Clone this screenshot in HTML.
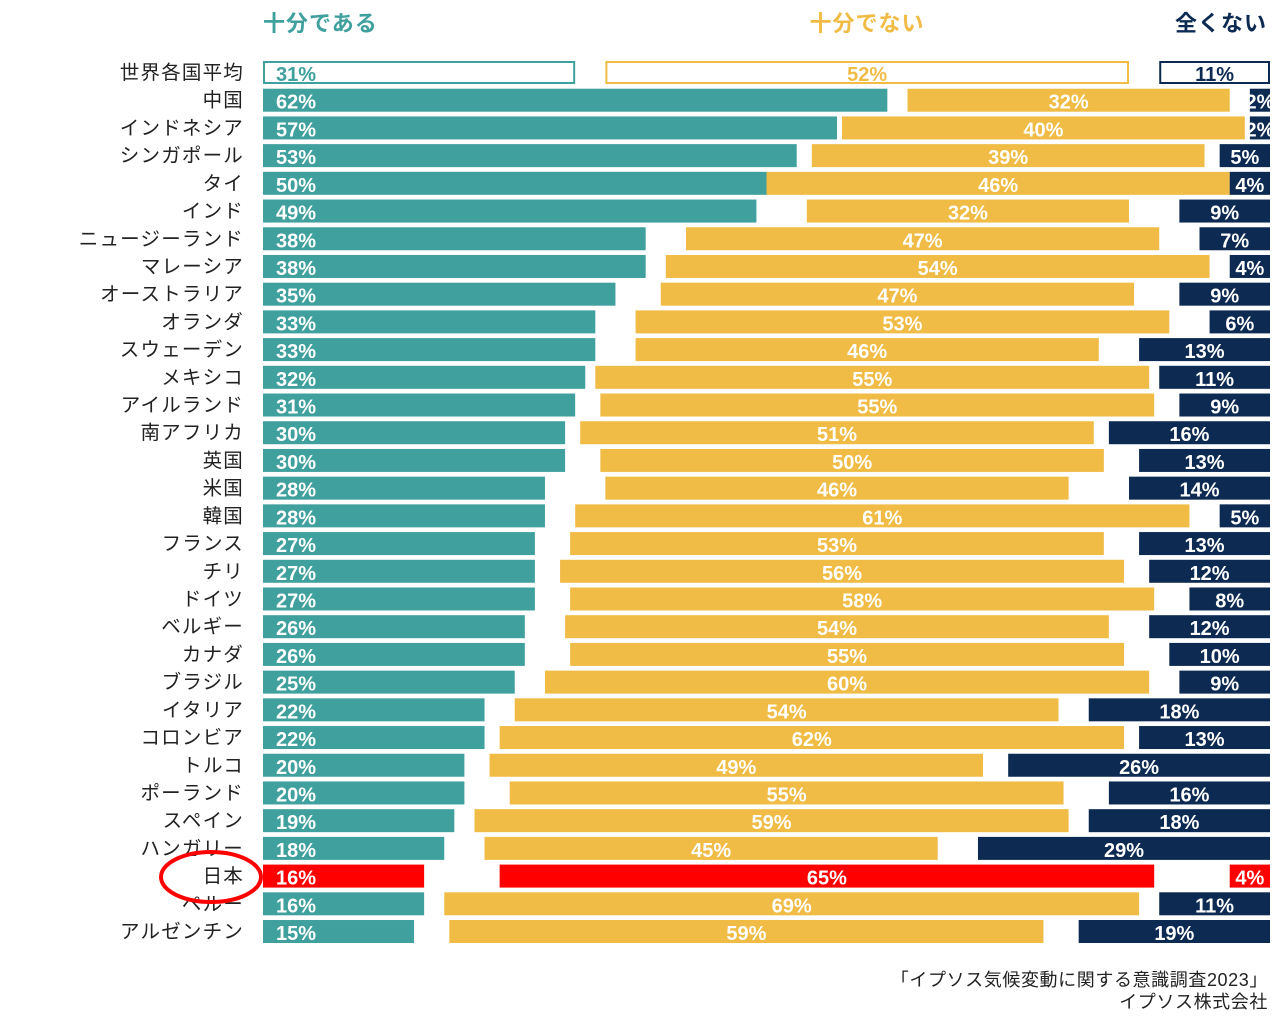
<!DOCTYPE html>
<html><head><meta charset="utf-8"><style>
html,body{margin:0;padding:0;background:#fff;}
svg{display:block;font-family:"Liberation Sans","Noto Sans CJK JP",sans-serif;}
</style></head><body>
<svg id="chart" width="1282" height="1024" viewBox="0 0 1282 1024" xmlns="http://www.w3.org/2000/svg">
<text x="263" y="31" font-size="22" font-weight="bold" fill="#40A09E" letter-spacing="1">十分である</text>
<text x="867" y="31" font-size="22" font-weight="bold" fill="#F0BC45" letter-spacing="1" text-anchor="middle">十分でない</text>
<text x="1267" y="31" font-size="22" font-weight="bold" fill="#0D2A52" letter-spacing="1" text-anchor="end">全くない</text>
<g id="rows"></g>
<ellipse cx="211" cy="877" rx="50" ry="25" fill="none" stroke="#FF0000" stroke-width="4"/>
<text x="1268" y="986" font-size="18" fill="#222" letter-spacing="0.6" text-anchor="end">「イプソス気候変動に関する意識調査2023」</text>
<text x="1268" y="1008" font-size="18" fill="#222" letter-spacing="0.6" text-anchor="end">イプソス株式会社</text>
</svg>
<script>
const countries=["世界各国平均","中国","インドネシア","シンガポール","タイ","インド","ニュージーランド","マレーシア","オーストラリア","オランダ","スウェーデン","メキシコ","アイルランド","南アフリカ","英国","米国","韓国","フランス","チリ","ドイツ","ベルギー","カナダ","ブラジル","イタリア","コロンビア","トルコ","ポーランド","スペイン","ハンガリー","日本","ペルー","アルゼンチン"];
const sufficient=[31,62,57,53,50,49,38,38,35,33,33,32,31,30,30,28,28,27,27,27,26,26,25,22,22,20,20,19,18,16,16,15];
const insufficient=[52,32,40,39,46,32,47,54,47,53,46,55,55,51,50,46,61,53,56,58,54,55,60,54,62,49,55,59,45,65,69,59];
const notAtAll=[11,2,2,5,4,9,7,4,9,6,13,11,9,16,13,14,5,13,12,8,12,10,9,18,13,26,16,18,29,4,11,19];
const X0=263,X1=1270,ROW0=61,PITCH=27.71,BH=23;
const xs=v=>v*(X1-X0)/100;
const g=document.getElementById('rows');
const NS='http://www.w3.org/2000/svg';
function mk(tag,attrs){const e=document.createElementNS(NS,tag);for(const k in attrs)e.setAttribute(k,attrs[k]);return e;}
countries.forEach((c,i)=>{
  const y=ROW0+i*PITCH;
  const a=sufficient[i],b=insufficient[i],n=notAtAll[i];
  const gap=(100-a-b-n)/2;
  const world=i===0,jp=c==="日本";
  const lab=mk('text',{x:244,y:y+18,'font-size':19.5,'letter-spacing':1.2,fill:'#222','text-anchor':'end'});
  lab.textContent=c;
  
  
  g.appendChild(lab);
  const segs=[
    {s:0,w:a,col:jp?'#FF0000':'#40A09E',v:a,anchor:'start',nm:'bar-sufficient'},
    {s:a+gap,w:b,col:jp?'#FF0000':'#F0BC45',v:b,anchor:'middle',nm:'bar-insufficient'},
    {s:a+gap+b+gap,w:n,col:jp?'#FF0000':'#0D2A52',v:n,anchor:'middle',nm:'bar-not-at-all'}];
  segs.forEach(sg=>{
    const x=X0+xs(sg.s),w=xs(sg.w);
    const r=world?mk('rect',{x:x+1,y:y+1,width:w-2,height:BH-2,fill:'#fff',stroke:sg.col,'stroke-width':2}):mk('rect',{x:x,y:y,width:w,height:BH,fill:sg.col});
    
    
    g.appendChild(r);
    const tx=sg.anchor==='start'?x+13:x+w/2;
    const t=mk('text',{x:tx,y:y+20,'font-size':20,'font-weight':'bold',fill:world?sg.col:'#fff','text-anchor':sg.anchor});
    t.textContent=sg.v+'%';
    
    
    g.appendChild(t);
  });
});
</script>
</body></html>
